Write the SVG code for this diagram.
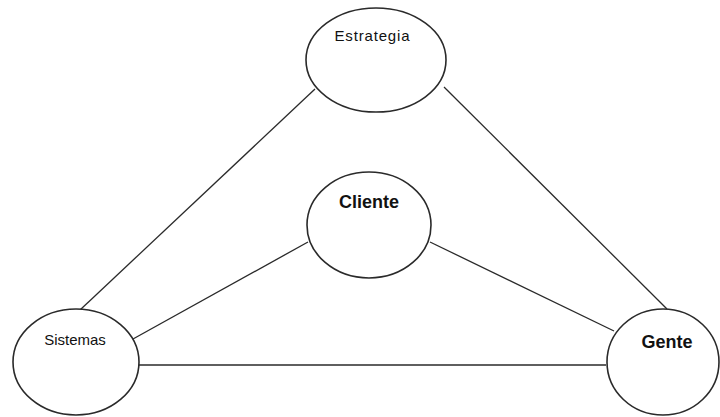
<svg xmlns="http://www.w3.org/2000/svg" width="720" height="417" viewBox="0 0 720 417">
<style>
.n{fill:#fff;stroke:#2a2a2a;stroke-width:1.6}
.c line{stroke:#2a2a2a;stroke-width:1.3}
.t{font-family:"Liberation Sans",Arial,sans-serif;fill:#111;text-anchor:middle}
.r{font-size:15px}
.b{font-size:18px;font-weight:bold}
</style>
<rect width="720" height="417" fill="#fff"/>
<g class="c" id="connectors">
<line x1="315" y1="89" x2="80" y2="310"/>
<line x1="444" y1="87" x2="667" y2="309"/>
<line x1="308" y1="242" x2="133" y2="339"/>
<line x1="430" y1="242" x2="614" y2="331"/>
<line x1="138" y1="365" x2="606" y2="365"/>
</g>
<g id="estrategia">
<ellipse class="n" cx="376" cy="60" rx="70" ry="52"/>
<text class="t r" x="372" y="41" textLength="75" lengthAdjust="spacing">Estrategia</text>
</g>
<g id="cliente">
<ellipse class="n" cx="369" cy="225" rx="62" ry="53"/>
<text class="t b" x="369" y="208">Cliente</text>
</g>
<g id="sistemas">
<ellipse class="n" cx="76" cy="362" rx="63" ry="53"/>
<text class="t r" x="75" y="345">Sistemas</text>
</g>
<g id="gente">
<ellipse class="n" cx="663" cy="362" rx="56" ry="53"/>
<text class="t b" x="667" y="348">Gente</text>
</g>
</svg>
